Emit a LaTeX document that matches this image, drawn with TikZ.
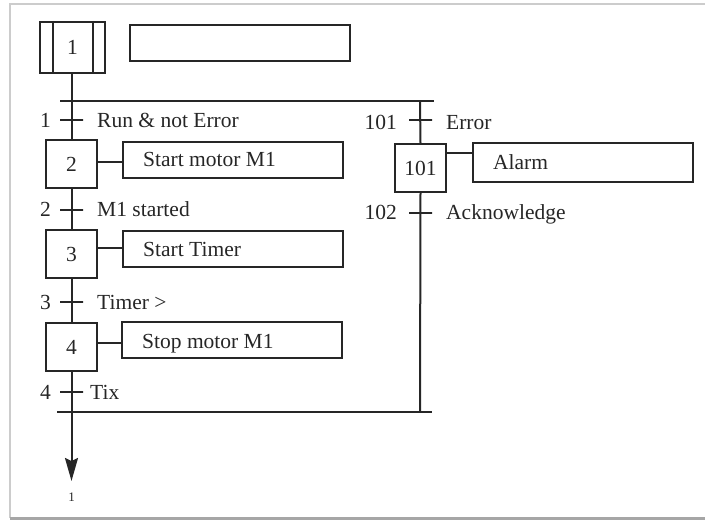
\documentclass[tikz,border=0pt]{standalone}
\usepackage{fontspec}
\setmainfont{Liberation Serif}
\usetikzlibrary{arrows.meta}
\definecolor{ink}{HTML}{262626}
\begin{document}
\begin{tikzpicture}[x=1pt,y=-1pt,
  every node/.style={font=\fontsize{21.5}{25}\selectfont, text=ink},
  stepbox/.style={draw=ink, line width=2pt, minimum width=51pt, minimum height=48pt, inner sep=0pt},
  actbox/.style={draw=ink, line width=2pt, minimum width=220pt, minimum height=36pt, inner sep=0pt},
  trans/.style={draw=ink, line width=2pt, minimum width=23pt, minimum height=0pt, inner sep=0pt},
  lbl/.style={inner sep=0pt},
  wire/.style={draw=ink, line width=2pt},
  bar/.style={draw=ink, line width=2.2pt}]
\useasboundingbox (0,0) rectangle (705,524);
% frame
\draw[gray!40, line width=1.2pt] (10,518) -- (10,4) -- (705,4);
\draw[gray!70, line width=3pt] (10,518) -- (705,518);

% initial step
\node[stepbox, minimum width=65pt, minimum height=51pt] (s1) at (72.5,47.5) {1};
\draw[wire] ([xshift=14pt]s1.north west) -- ([xshift=14pt]s1.south west);
\draw[wire] ([xshift=-13pt]s1.north east) -- ([xshift=-13pt]s1.south east);
\node[actbox] (a1) at (240,43) {};

% divergence / convergence bars
\coordinate (dL) at (60,101);
\coordinate (dR) at (434,101);
\coordinate (dB) at (420,101);
\coordinate (cL) at (57,412);
\coordinate (cR) at (432,412);
\coordinate (cB) at (420,412);
\draw[bar] (dL) -- (dR);
\draw[bar] (cL) -- (cR);

% left column steps
\node[stepbox] (s2) at (71.5,164) {2};
\node[stepbox] (s3) at (71.5,254) {3};
\node[stepbox] (s4) at (71.5,347) {4};
\node[actbox] (a2) at (233,160) {};
\node[actbox] (a3) at (233,249.5) {};
\node[actbox] (a4) at (232,340) {};
\node[lbl, anchor=base west] (a2t) at (143,167) {Start motor M1};
\node[lbl, anchor=base west] (a3t) at (143,256) {Start Timer};
\node[lbl, anchor=base west] (a4t) at (142,348) {Stop motor M1};

% transitions left
\node[trans] (t1) at (71.5,120) {};
\node[trans] (t2) at (71.5,210.5) {};
\node[trans] (t3) at (71.5,302) {};
\node[trans] (t4) at (71.5,392) {};
\node[lbl, anchor=base east] (t1n) at (51,128) {1};
\node[lbl, anchor=base east] (t2n) at (51,217) {2};
\node[lbl, anchor=base east] (t3n) at (51,309) {3};
\node[lbl, anchor=base east] (t4n) at (51,399) {4};
\node[lbl, anchor=base west] (t1c) at (97,128) {Run \& not Error};
\node[lbl, anchor=base west] (t2c) at (97,217) {M1 started};
\node[lbl, anchor=base west] (t3c) at (97,309) {Timer >};
\node[lbl, anchor=base west] (t4c) at (90,399) {Tix};

% right branch
\node[stepbox] (s101) at (420.5,168) {101};
\node[actbox, minimum height=39pt] (a101) at (583,162.5) {};
\node[lbl, anchor=base west] (a101t) at (493,170) {Alarm};
\node[trans] (t101) at (420.5,120) {};
\node[trans] (t102) at (420.5,213) {};
\node[lbl, anchor=base east] (t101n) at (397,130) {101};
\node[lbl, anchor=base east] (t102n) at (397,220) {102};
\node[lbl, anchor=base west] (t101c) at (446,130) {Error};
\node[lbl, anchor=base west] (t102c) at (446,220) {Acknowledge};

% connectors
\coordinate (end) at (71.5,481);
\draw[wire] (s1.south -| s2.north) -- (s2.north);
\draw[wire] (s2.south) -- (s3.north);
\draw[wire] (s3.south) -- (s4.north);
\draw[wire, -{Stealth[length=23pt,width=13pt,inset=3pt]}] (s4.south) -- (end);
\node[lbl, font=\fontsize{13}{15}\selectfont] (endn) at (71.5,497) {1};
\draw[wire] (dB) -- (s101.north);
\draw[wire] (s101.south) -- (cB);
\draw[wire] (s2.east |- 0,162) -- (a2.west |- 0,162);
\draw[wire] (s3.east |- 0,248) -- (a3.west |- 0,248);
\draw[wire] (s4.east |- 0,343) -- (a4.west |- 0,343);
\draw[wire] (s101.east |- 0,153) -- (a101.west |- 0,153);
\end{tikzpicture}
\end{document}
